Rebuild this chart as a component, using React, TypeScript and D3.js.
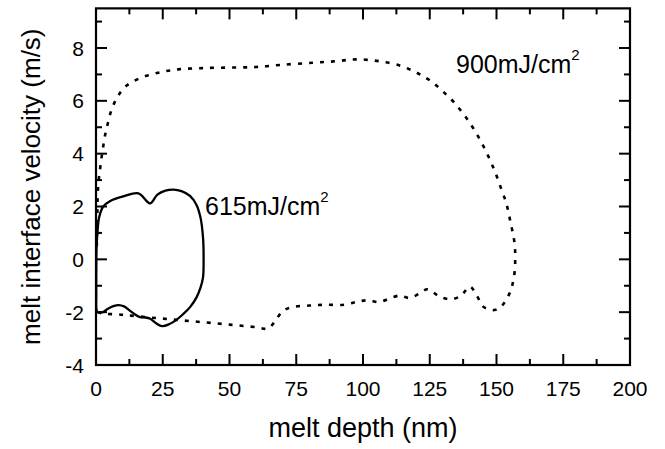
import React from "react";
import * as d3 from "d3";

// Melt depth (nm) and interface velocity (m/s) for the 615 mJ/cm^2 pulse (closed loop)
const depth615 = [
  1.0, 0.3, 0.1, 0.1, 0.2, 0.6, 1.2, 2.7, 5.2, 10.2, 15.9, 20.2, 23, 26, 29, 32, 35.2, 37.7,
  39.2, 40.1, 40.3, 40.1, 39.2, 37.7, 35.3, 32.7, 30, 27.5, 24.8, 22.5, 20.3, 18.3, 16.5,
  14.5, 12.5, 10.5, 8.5, 6.5, 4.5, 2.5,
];
const velocity615 = [
  -2.02, -1.95, -1.3, -0.5, 0.4, 1.1, 1.6, 2.0, 2.2, 2.38, 2.5, 2.12, 2.45, 2.6, 2.64, 2.58,
  2.4, 2.05, 1.55, 0.8, 0, -0.67, -1.05, -1.43, -1.8, -2.07, -2.3, -2.45, -2.53, -2.42, -2.25,
  -2.2, -2.19, -2.08, -1.93, -1.78, -1.73, -1.77, -1.87, -2.0,
];

// Melt depth (nm) and interface velocity (m/s) for the 900 mJ/cm^2 pulse
const depth900 = [
  0.3, 0.5, 0.6, 0.9, 1.5, 2.0, 2.6, 3.2, 4.1, 5.3, 7.0, 9.0, 11.5, 15.2, 19.6, 24, 27.7, 31.5,
  40, 50, 60, 69, 81, 90, 97.6, 106, 114, 119, 122.6, 126.3, 130, 134, 138, 142, 146, 149.5,
  152, 153.6, 154.6, 155.4, 156.3, 156.9, 157, 156.9, 156.3, 155.3, 153.2, 151, 149.2, 147,
  145, 142.6, 140, 136.6, 132.6, 128.6, 124.2, 121.1, 117.3, 113.9, 110, 106, 102, 98, 93, 86,
  80, 74, 70, 67, 64.5, 60, 50, 40, 30, 20, 10, 2, 1.0,
];
const velocity900 = [
  0.5, 1.5, 2.3, 2.9, 3.4, 3.8, 4.2, 4.6, 5.0, 5.5, 5.95, 6.3, 6.58, 6.8, 6.97, 7.08, 7.15, 7.2,
  7.24, 7.26, 7.28, 7.36, 7.44, 7.5, 7.57, 7.5, 7.33, 7.12, 6.93, 6.68, 6.35, 5.95, 5.45, 4.85,
  4.1, 3.3, 2.6, 2.15, 1.72, 1.33, 0.91, 0.47, 0.06, -0.36, -0.8, -1.18, -1.6, -1.85, -1.92,
  -1.88, -1.79, -1.37, -1.03, -1.39, -1.51, -1.41, -1.13, -1.3, -1.46, -1.37, -1.48, -1.62,
  -1.55, -1.6, -1.72, -1.72, -1.75, -1.8, -1.95, -2.35, -2.62, -2.57, -2.47, -2.38, -2.29,
  -2.2, -2.1, -2.04, -2.0,
];

const xMajorTicks = [0, 25, 50, 75, 100, 125, 150, 175, 200];
const xMinorTicks = [12.5, 37.5, 62.5, 87.5, 112.5, 137.5, 162.5, 187.5];
const yMajorTicks = [-4, -2, 0, 2, 4, 6, 8];
const yMinorTicks = [-3, -1, 1, 3, 5, 7, 9];

const WIDTH = 665;
const HEIGHT = 449;
const FONT = "'Liberation Sans', Arial, Helvetica, sans-serif";

export default function App() {
  const x = d3.scaleLinear().domain([0, 200]).range([96, 630]);
  const y = d3.scaleLinear().domain([-4, 8]).range([365, 48]);
  const yTop = y(9.5);
  const yBottom = y(-4);
  const xLeft = x(0);
  const xRight = x(200);

  const loop615 = depth615.map((d, i) => [d, velocity615[i]] as [number, number]);
  const path900 = depth900.map((d, i) => [d, velocity900[i]] as [number, number]);

  const closedLine = d3
    .line<[number, number]>()
    .x((d) => x(d[0]))
    .y((d) => y(d[1]))
    .curve(d3.curveCatmullRomClosed.alpha(0.5));
  const openLine = d3
    .line<[number, number]>()
    .x((d) => x(d[0]))
    .y((d) => y(d[1]))
    .curve(d3.curveCatmullRom.alpha(0.5));

  const major = 11;
  const minor = 6;

  return (
    <svg
      width={WIDTH}
      height={HEIGHT}
      style={{ position: "absolute", left: 0, top: 0, background: "#fff" }}
      fontFamily={FONT}
    >
      <defs>
        <clipPath id="plot-area">
          <rect x={xLeft} y={yTop} width={xRight - xLeft} height={yBottom - yTop} />
        </clipPath>
      </defs>

      <g clipPath="url(#plot-area)">
        <path
          d={openLine(path900) ?? ""}
          fill="none"
          stroke="#000"
          strokeWidth={2.6}
          strokeDasharray="4 7"
        />
        <path d={closedLine(loop615) ?? ""} fill="none" stroke="#000" strokeWidth={2.3} />
      </g>

      {/* inward ticks on all four sides */}
      <g stroke="#000" strokeWidth={2}>
        {xMajorTicks.map((t) => (
          <g key={`xM${t}`}>
            <line x1={x(t)} x2={x(t)} y1={yBottom} y2={yBottom - major} />
            <line x1={x(t)} x2={x(t)} y1={yTop} y2={yTop + major} />
          </g>
        ))}
        {xMinorTicks.map((t) => (
          <g key={`xm${t}`}>
            <line x1={x(t)} x2={x(t)} y1={yBottom} y2={yBottom - minor} />
            <line x1={x(t)} x2={x(t)} y1={yTop} y2={yTop + minor} />
          </g>
        ))}
        {yMajorTicks.map((t) => (
          <g key={`yM${t}`}>
            <line x1={xLeft} x2={xLeft + major} y1={y(t)} y2={y(t)} />
            <line x1={xRight} x2={xRight - major} y1={y(t)} y2={y(t)} />
          </g>
        ))}
        {yMinorTicks.map((t) => (
          <g key={`ym${t}`}>
            <line x1={xLeft} x2={xLeft + minor} y1={y(t)} y2={y(t)} />
            <line x1={xRight} x2={xRight - minor} y1={y(t)} y2={y(t)} />
          </g>
        ))}
      </g>

      <rect
        x={xLeft}
        y={yTop}
        width={xRight - xLeft}
        height={yBottom - yTop}
        fill="none"
        stroke="#000"
        strokeWidth={2.2}
      />

      {/* tick labels */}
      <g fontSize={21} fill="#000">
        {xMajorTicks.map((t) => (
          <text key={`xl${t}`} x={x(t)} y={yBottom + 31} textAnchor="middle">
            {t}
          </text>
        ))}
        {yMajorTicks.map((t) => (
          <text key={`yl${t}`} x={xLeft - 12} y={y(t) + 7.5} textAnchor="end">
            {t}
          </text>
        ))}
      </g>

      {/* axis titles */}
      <text x={(xLeft + xRight) / 2} y={437} textAnchor="middle" fontSize={27} fill="#000">
        melt depth (nm)
      </text>
      <text
        transform={`translate(40, ${(yTop + yBottom) / 2}) rotate(-90)`}
        textAnchor="middle"
        fontSize={26}
        fill="#000"
      >
        melt interface velocity (m/s)
      </text>

      {/* curve annotations */}
      <text x={205} y={215} fontSize={25} fill="#000">
        615mJ/cm
        <tspan fontSize={15} dy={-13}>
          2
        </tspan>
      </text>
      <text x={456} y={73} fontSize={25} fill="#000">
        900mJ/cm
        <tspan fontSize={15} dy={-13}>
          2
        </tspan>
      </text>
    </svg>
  );
}
